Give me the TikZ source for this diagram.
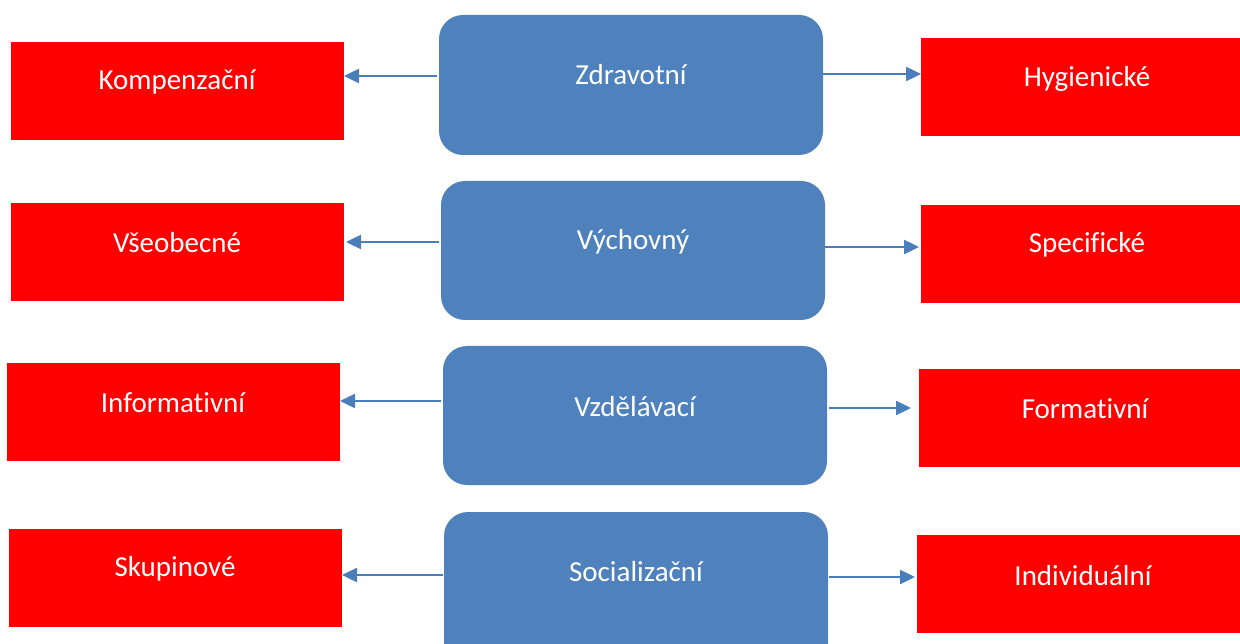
\documentclass[tikz,border=0pt]{standalone}
\usepackage{fontspec}
\setmainfont{Carlito}[Ligatures={NoCommon}]
\usetikzlibrary{arrows.meta}
\definecolor{boxblue}{HTML}{4F81BD}
\definecolor{arrblue}{HTML}{4A7EBB}
\definecolor{boxred}{HTML}{FF0000}
\tikzset{
  bluebox/.style={fill=boxblue, rounded corners=24pt, draw=none},
  redbox/.style={fill=boxred, draw=none},
  lbl/.style={text=white, font=\fontsize{29}{34}\selectfont, inner sep=0pt, yshift=-2pt},
  arr/.style={draw=arrblue, line width=2.4pt, -{Triangle[length=15pt,width=14pt]}}
}
\begin{document}
\begin{tikzpicture}[x=1pt,y=-1pt]
\useasboundingbox (0,0) rectangle (1240,644);
\clip (0,0) rectangle (1240,644);
% blue boxes
\path[bluebox] (439,15) rectangle (823,155);
\path[bluebox] (441,181) rectangle (825,320);
\path[bluebox] (443,346) rectangle (827,485);
\path[bluebox] (444,512) rectangle (828,668);
\node[lbl] (tb1) at (631,73) {Zdravotní};
\node[lbl] (tb2) at (633,240) {Výchovný};
\node[lbl] (tb3) at (635,405) {Vzdělávací};
\node[lbl] (tb4) at (636,570) {Socializační};
% red boxes left
\path[redbox] (11,42) rectangle (344,140);
\path[redbox] (11,203) rectangle (344,301);
\path[redbox] (7,363) rectangle (340,461);
\path[redbox] (9,529) rectangle (342,627);
\node[lbl] (tl1) at (177,80) {Kompenzační};
\node[lbl] (tl2) at (177,241) {Všeobecné};
\node[lbl] (tl3) at (173,401) {Informativní};
\node[lbl] (tl4) at (175,567) {Skupinové};
% red boxes right
\path[redbox] (921,38) rectangle (1254,136);
\path[redbox] (921,205) rectangle (1254,303);
\path[redbox] (919,369) rectangle (1252,467);
\path[redbox] (917,535) rectangle (1250,633);
\node[lbl] (tr1) at (1087,77) {Hygienické};
\node[lbl] (tr2) at (1087,243) {Specifické};
\node[lbl] (tr3) at (1085,407) {Formativní};
\node[lbl] (tr4) at (1083,574) {Individuální};
% arrows
\coordinate (a1s) at (437,76); \coordinate (a1e) at (344,76);
\coordinate (a2s) at (823,74); \coordinate (a2e) at (921,74);
\coordinate (a3s) at (439,242); \coordinate (a3e) at (346,242);
\coordinate (a4s) at (825,247); \coordinate (a4e) at (919,247);
\coordinate (a5s) at (441,401); \coordinate (a5e) at (340,401);
\coordinate (a6s) at (829,408); \coordinate (a6e) at (911,408);
\coordinate (a7s) at (443,575); \coordinate (a7e) at (342,575);
\coordinate (a8s) at (829,577); \coordinate (a8e) at (915,577);
\foreach \i in {1,...,8} { \draw[arr] (a\i s) -- (a\i e); }
\end{tikzpicture}
\end{document}
